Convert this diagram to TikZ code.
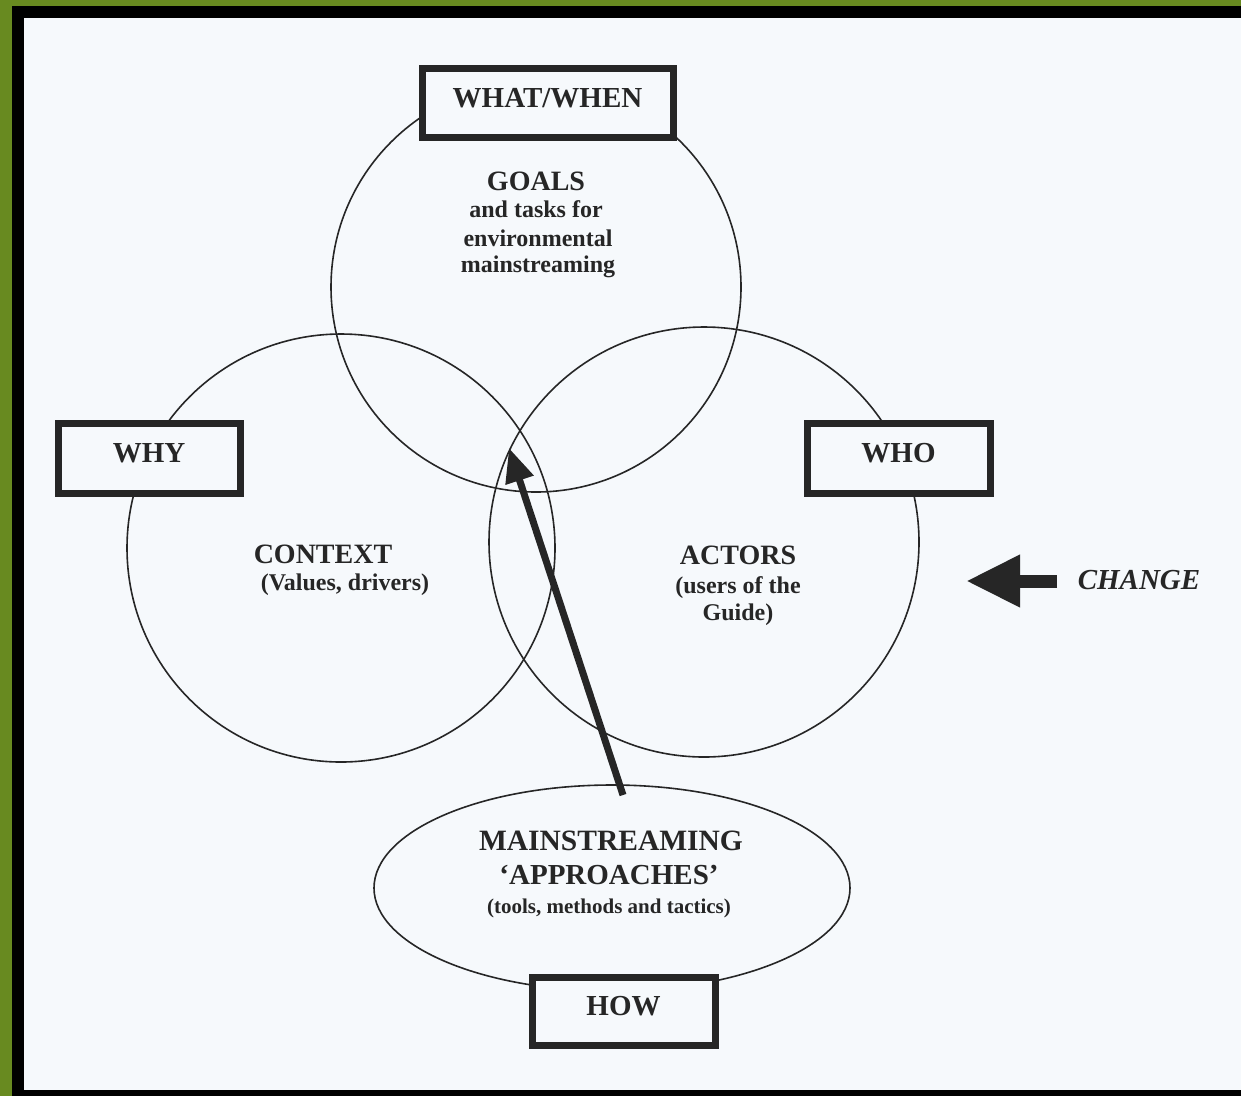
\documentclass[tikz,border=0pt]{standalone}
\usepackage{fontspec}
\setmainfont{Liberation Serif}
\usetikzlibrary{shapes.geometric,arrows.meta}
\definecolor{framegreen}{RGB}{104,138,32}
\definecolor{paper}{RGB}{246,249,252}
\definecolor{ink}{RGB}{38,38,38}
\begin{document}
\begin{tikzpicture}[x=1pt,y=-1pt,
  ring/.style={draw=ink, line width=1.6pt, circle, inner sep=0pt},
  tag/.style={draw=ink, fill=paper, line width=7pt, inner sep=0pt, text depth=10pt,
    font=\fontsize{29}{34}\selectfont\bfseries, text=ink},
  big/.style={anchor=base, inner sep=0pt, font=\fontsize{28}{33}\selectfont\bfseries, text=ink},
  small/.style={anchor=base, inner sep=0pt, font=\fontsize{24}{28}\selectfont\bfseries, text=ink},
  tiny/.style={anchor=base, inner sep=0pt, font=\fontsize{21}{25}\selectfont\bfseries, text=ink},
  pointer/.style={draw=ink, line width=7pt, -{Triangle[length=34pt,width=28pt]}}]
\useasboundingbox (0,0) rectangle (1241,1096);
\fill[framegreen] (0,0) rectangle (1241,1096);
\fill[black] (12,6) rectangle (1241,1096);
\fill[paper] (24,18) rectangle (1241,1090);

% circles and ellipse
\node[ring, minimum size=410pt] (goalsC) at (536,287) {};
\node[ring, minimum size=428pt] (contextC) at (341,548) {};
\node[ring, minimum size=430pt] (actorsC) at (704,542) {};
\node[ring, ellipse, minimum width=476pt, minimum height=206pt] (howE) at (612,888) {};

% boxes
\node[tag, minimum width=251pt, minimum height=69pt] (whatB) at (547.5,102.5) {WHAT/WHEN};
\node[tag, minimum width=182pt, minimum height=70pt] (whyB) at (149,458) {WHY};
\node[tag, minimum width=183pt, minimum height=70pt] (whoB) at (898.5,458) {WHO};
\node[tag, minimum width=183pt, minimum height=68pt] (howB) at (623.5,1011) {HOW};

% texts in circles
\node[big] (goalsT) at (536,190) {GOALS};
\node[small] (goalsL1) at (536,217) {and tasks for};
\node[small] (goalsL2) at (538,246) {environmental};
\node[small] (goalsL3) at (538,272) {mainstreaming};

\node[big] (contextT) at (323,563) {CONTEXT};
\node[small] (contextL1) at (345,590) {(Values, drivers)};

\node[big] (actorsT) at (738,564) {ACTORS};
\node[small] (actorsL1) at (738,593) {(users of the};
\node[small] (actorsL2) at (738,620) {Guide)};

\node[big, font=\fontsize{29.5}{34}\selectfont\bfseries] (howT1) at (611,850) {MAINSTREAMING};
\node[big, font=\fontsize{29}{34}\selectfont\bfseries] (howT2) at (609,884) {‘APPROACHES’};
\node[tiny] (howT3) at (609,913) {(tools, methods and tactics)};

% main arrow
\coordinate (apTail) at (623,795);
\coordinate (apTip) at (509,448);
\draw[pointer] (apTail) -- (apTip);

% change arrow
\coordinate (chgTail) at (1057,581);
\coordinate (chgTip) at (966,581);
\draw[draw=ink, line width=13pt, -{Triangle[length=54pt,width=49pt]}] (chgTail) -- (chgTip);
\node[anchor=base, inner sep=0pt, font=\fontsize{29}{34}\selectfont\bfseries\itshape, text=ink] (changeT) at (1139,589) {CHANGE};
\end{tikzpicture}
\end{document}
